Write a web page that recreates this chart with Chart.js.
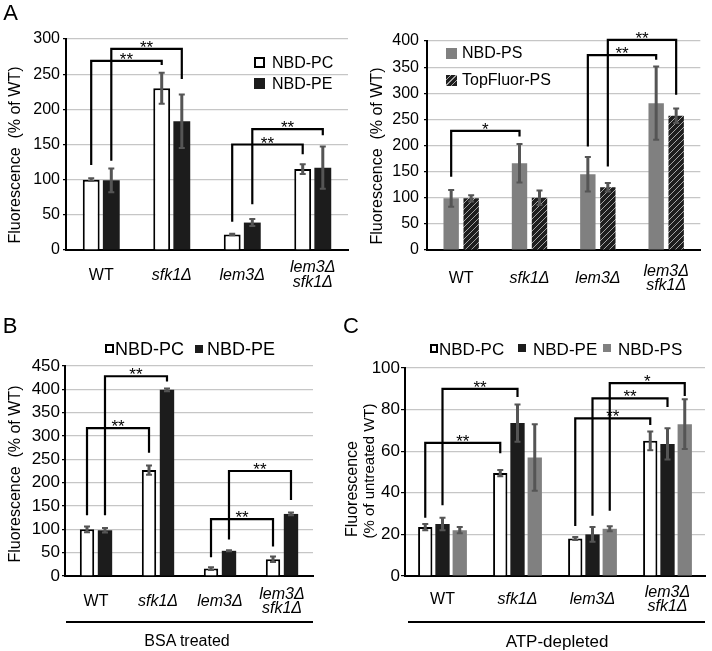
<!DOCTYPE html>
<html>
<head>
<meta charset="utf-8">
<script src="https://cdn.jsdelivr.net/npm/chart.js@4.4.1/dist/chart.umd.min.js"></script>
<style>
  body { margin: 0; background: #fff; }
  #fig { position: relative; width: 712px; height: 651px; overflow: hidden;
         font-family: 'Liberation Sans', Arial, sans-serif; color: #000; }
  #fig canvas { position: absolute; }
  .t { position: absolute; white-space: nowrap; line-height: 1; }
  .bx { position: absolute; box-sizing: border-box; }
</style>
</head>
<body>
<div id="fig">
  <canvas id="aLeft" width="355" height="315" style="left:0;top:0"></canvas>
  <canvas id="aRight" width="357" height="315" style="left:355px;top:0"></canvas>
  <canvas id="bChart" width="340" height="331" style="left:0;top:320px"></canvas>
  <canvas id="cChart" width="372" height="331" style="left:340px;top:320px"></canvas>
</div>
<script>
// categories
const strains = ['WT', 'sfk1Δ', 'lem3Δ', ['lem3Δ', 'sfk1Δ']];

// A: % of WT
const aPC = [100, 230, 22, 115], aPCerr = [2, 22, 1, 7];
const aPE = [99, 183, 39, 117], aPEerr = [17, 38, 5, 30];
const aPS = [99, 166, 145, 281], aPSerr = [16, 37, 33, 70];
const aTF = [99, 100, 120, 257], aTFerr = [6, 14, 8, 14];
// B: BSA treated
const bPC = [100, 227, 16, 36], bPCerr = [6, 10, 3, 6];
const bPE = [98, 399, 54, 133], bPEerr = [5, 3, 1, 3];
// C: ATP-depleted, % of untreated WT
const cPC = [23.5, 49.5, 18, 65], cPCerr = [1.5, 1.5, 0.7, 4.5];
const cPE = [25, 73.5, 20, 63.5], cPEerr = [3, 9, 3.5, 7.5];
const cPS = [22, 57, 22.7, 73], cPSerr = [1.5, 16, 1.2, 12];

// significance brackets: [fromCat, fromSeries, toCat, toSeries, legStart, top, legEnd, mark]
const aLeftSig = [[0,0,1,0,121,269,263,'**'], [0,1,1,1,127,286,243,'**'],
                  [2,0,3,0,40,150,136,'**'], [2,1,3,1,65,172,163,'**']];
const aRightSig = [[0,0,1,0,140,228,217,'*'], [2,0,3,0,198,373,364,'**'],
                   [2,1,3,1,160,402,297,'**']];
const bSig = [[0,0,1,0,130,317,264,'**'], [0,1,1,1,130,428,417,'**'],
              [2,0,3,0,40,122,63,'**'], [2,1,3,1,78,225,163,'**']];
const cSig = [[0,0,1,0,28,64,59,'**'], [0,1,1,1,34,90,86,'**'],
              [2,0,3,0,24,75.8,72.6,'**'], [2,1,3,1,29,85.4,81.3,'**'],
              [2,2,3,2,31.4,92.7,86.5,'*']];

const FONT = "'Liberation Sans', Arial, sans-serif";
Chart.defaults.font.family = FONT;
Chart.defaults.color = '#000';

const WHITE = '#ffffff', BLACK = '#1c1c1c', GREY = '#808080';

function hatch() {
  const c = document.createElement('canvas');
  c.width = 6; c.height = 6;
  const g = c.getContext('2d');
  g.fillStyle = '#1e1e1e';
  g.fillRect(0, 0, 6, 6);
  g.strokeStyle = '#a5a5a5';
  g.lineWidth = 1;
  g.beginPath();
  g.moveTo(0, 6); g.lineTo(6, 0);
  g.moveTo(-1, 1); g.lineTo(1, -1);
  g.moveTo(5, 7); g.lineTo(7, 5);
  g.stroke();
  return g.createPattern(c, 'repeat');
}

// error bars + brackets
const marks = {
  id: 'marks',
  afterDatasetsDraw(chart, args, opt) {
    const ctx = chart.ctx, y = chart.scales.y;
    ctx.save();
    chart.data.datasets.forEach((ds, di) => {
      chart.getDatasetMeta(di).data.forEach((bar, i) => {
        const t = y.getPixelForValue(ds.data[i] + ds.err[i]);
        const b = y.getPixelForValue(ds.data[i] - ds.err[i]);
        ctx.strokeStyle = '#555555';
        ctx.lineWidth = 3;
        ctx.beginPath(); ctx.moveTo(bar.x, t); ctx.lineTo(bar.x, b); ctx.stroke();
        ctx.lineWidth = 2;
        ctx.beginPath();
        ctx.moveTo(bar.x - 3, t); ctx.lineTo(bar.x + 3, t);
        ctx.moveTo(bar.x - 3, b); ctx.lineTo(bar.x + 3, b);
        ctx.stroke();
      });
    });
    ctx.strokeStyle = '#000';
    ctx.fillStyle = '#000';
    ctx.lineWidth = 2.2;
    ctx.font = '17px ' + FONT;
    ctx.textAlign = 'center';
    ctx.textBaseline = 'alphabetic';
    (opt.brackets || []).forEach(([c0, s0, c1, s1, v0, vt, v1, m]) => {
      const x0 = chart.getDatasetMeta(s0).data[c0].x;
      const x1 = chart.getDatasetMeta(s1).data[c1].x;
      const ya = y.getPixelForValue(v0), yt = y.getPixelForValue(vt), yb = y.getPixelForValue(v1);
      ctx.beginPath();
      ctx.moveTo(x0, ya); ctx.lineTo(x0, yt); ctx.lineTo(x1, yt); ctx.lineTo(x1, yb);
      ctx.stroke();
      ctx.fillText(m, (x0 + x1) / 2, yt + 4);
    });
    ctx.restore();
  }
};

function panel(id, o) {
  const cv = document.getElementById(id);
  return new Chart(cv, {
    type: 'bar',
    data: {
      labels: strains,
      datasets: o.series.map(s => ({
        label: s.name, data: s.data, err: s.err,
        backgroundColor: s.fill, borderColor: '#000', borderWidth: s.border,
        borderSkipped: 'bottom',
        categoryPercentage: o.catPct, barPercentage: o.barPct
      }))
    },
    options: {
      responsive: false, animation: false, devicePixelRatio: 1,
      layout: { padding: { left: 0, top: o.area.top, right: cv.width - o.area.right, bottom: 0 } },
      plugins: { legend: { display: false }, tooltip: { enabled: false }, marks: { brackets: o.brackets } },
      scales: {
        x: {
          offset: true,
          grid: { display: false, drawTicks: false },
          border: { display: true, color: '#000', width: 2 },
          ticks: {
            padding: o.xPad, crossAlign: 'center', maxRotation: 0, autoSkip: false,
            font: c => ({ size: o.catSize, lineHeight: o.catLh + 'px', style: c.index === 0 ? 'normal' : 'italic' })
          },
          afterFit: s => { s.height = cv.height - o.area.bottom; }
        },
        y: {
          min: 0, max: o.max,
          ticks: { stepSize: o.step, padding: o.yPad, autoSkip: false, font: { size: o.tickSize } },
          grid: { color: '#c6c6c6', lineWidth: 1.2, tickLength: o.tl, tickColor: '#000' },
          border: { display: true, color: '#000', width: 2 },
          afterFit: s => { s.width = o.area.left; }
        }
      }
    },
    plugins: [marks]
  });
}

const PAT = hatch();

panel('aLeft', {
  series: [{ name: 'NBD-PC', data: aPC, err: aPCerr, fill: WHITE, border: 2 },
           { name: 'NBD-PE', data: aPE, err: aPEerr, fill: BLACK, border: 0 }],
  area: { left: 66, top: 39, right: 348, bottom: 250 },
  max: 300, step: 50, catPct: 0.57, barPct: 0.84,
  tickSize: 16, catSize: 16, catLh: 15, xPad: 18, yPad: 3, tl: 3, brackets: aLeftSig
});
panel('aRight', {
  series: [{ name: 'NBD-PS', data: aPS, err: aPSerr, fill: GREY, border: 0 },
           { name: 'TopFluor-PS', data: aTF, err: aTFerr, fill: PAT, border: 0 }],
  area: { left: 72, top: 41, right: 348, bottom: 250 },
  max: 400, step: 50, catPct: 0.585, barPct: 0.77,
  tickSize: 16, catSize: 16, catLh: 14, xPad: 22, yPad: 5, tl: 3, brackets: aRightSig
});
panel('bChart', {
  series: [{ name: 'NBD-PC', data: bPC, err: bPCerr, fill: WHITE, border: 2 },
           { name: 'NBD-PE', data: bPE, err: bPEerr, fill: BLACK, border: 0 }],
  area: { left: 65, top: 46, right: 313, bottom: 256 },
  max: 450, step: 50, catPct: 0.58, barPct: 0.8,
  tickSize: 17, catSize: 16, catLh: 14, xPad: 19, yPad: 2, tl: 3, brackets: bSig
});
panel('cChart', {
  series: [{ name: 'NBD-PC', data: cPC, err: cPCerr, fill: WHITE, border: 2 },
           { name: 'NBD-PE', data: cPE, err: cPEerr, fill: BLACK, border: 0 },
           { name: 'NBD-PS', data: cPS, err: cPSerr, fill: GREY, border: 0 }],
  area: { left: 65, top: 48, right: 365, bottom: 256 },
  max: 100, step: 20, catPct: 0.69, barPct: 0.83,
  tickSize: 17, catSize: 16, catLh: 14, xPad: 17, yPad: 1, tl: 4, brackets: cSig
});

// text, legends, group bars
const fig = document.getElementById('fig');
function txt(s, x, y, size, mode) {
  const d = document.createElement('div');
  d.className = 't';
  d.textContent = s;
  d.style.left = x + 'px';
  d.style.top = y + 'px';
  d.style.fontSize = size + 'px';
  d.style.transform = mode === 'v' ? 'translate(-50%,-50%) rotate(-90deg)'
                    : mode === 'l' ? 'translate(0,-50%)' : 'translate(-50%,-50%)';
  fig.appendChild(d);
}
function box(x, y, w, h, css) {
  const d = document.createElement('div');
  d.className = 'bx';
  d.style.cssText += `left:${x}px;top:${y}px;width:${w}px;height:${h}px;` + css;
  fig.appendChild(d);
}
const OPEN = 'border:2px solid #000;background:#fff;';
const FILL = 'background:' + BLACK + ';';
const GFILL = 'background:' + GREY + ';';
const HFILL = 'background:repeating-linear-gradient(135deg,#1e1e1e 0 3px,#a5a5a5 3px 4px);';

txt('A', 10.5, 13, 22);
txt('B', 10, 326, 22);
txt('C', 351, 326, 22);

txt('Fluorescence\u00a0\u00a0(% of WT)', 15, 155, 16, 'v');
txt('Fluorescence\u00a0\u00a0(% of WT)', 377, 156, 16, 'v');
txt('Fluorescence\u00a0\u00a0(% of WT)', 15, 474, 16, 'v');
txt('Fluorescence', 352, 489, 16, 'v');
txt('(% of untreated WT)', 368, 471, 15, 'v');

box(254, 57, 11, 11, OPEN);  txt('NBD-PC', 272, 63, 16, 'l');
box(254, 78, 11, 11, FILL);  txt('NBD-PE', 272, 84, 16, 'l');
box(446, 48, 11, 11, GFILL); txt('NBD-PS', 462, 53, 16, 'l');
box(446, 75, 11, 11, HFILL); txt('TopFluor-PS', 462, 80, 16, 'l');

box(105, 344, 9, 9, OPEN); txt('NBD-PC', 115, 349, 18, 'l');
box(195, 345, 8, 8, FILL); txt('NBD-PE', 207, 349, 18, 'l');

box(430, 344, 8, 9, OPEN);  txt('NBD-PC', 439, 349, 17, 'l');
box(518, 344, 8, 8, FILL);  txt('NBD-PE', 533, 349, 17, 'l');
box(603, 344, 8, 8, GFILL); txt('NBD-PS', 618, 349, 17, 'l');

box(66, 621, 247, 2, 'background:#000;');
txt('BSA treated', 187, 641, 16);
box(408, 621, 297, 2, 'background:#000;');
txt('ATP-depleted', 557, 641, 17);
</script>
</body>
</html>
